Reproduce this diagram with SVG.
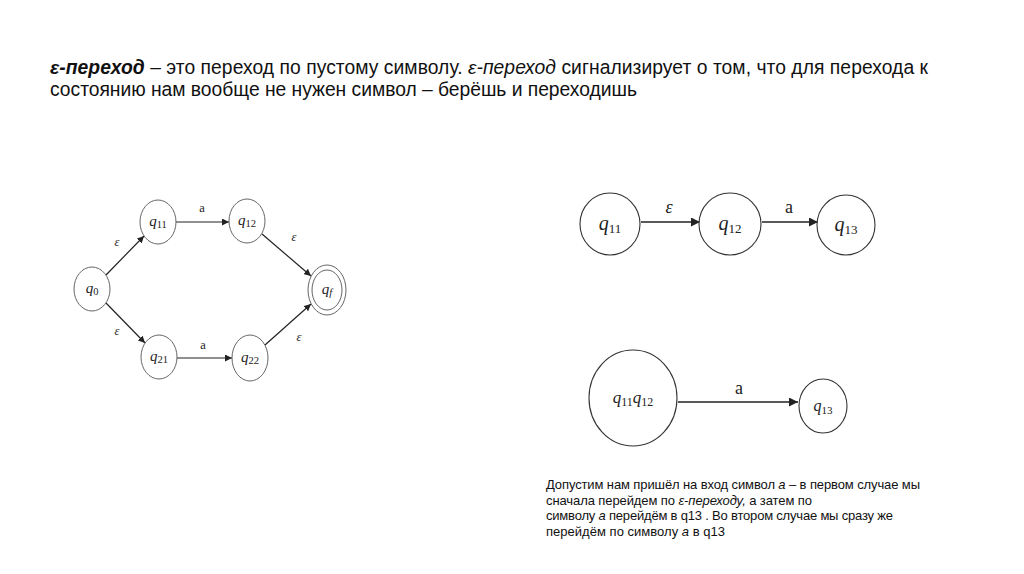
<svg xmlns="http://www.w3.org/2000/svg" width="1024" height="574" viewBox="0 0 1024 574">
<style>
.txt{font-family:"Liberation Sans",Arial,sans-serif;fill:#111}
.title{font-size:19.3px}
.note{font-size:13px}
.nd{fill:#fff;stroke:#666;stroke-width:1}
.nd2{fill:#fff;stroke:#333;stroke-width:1.1}
.ql{font-family:"Liberation Serif","DejaVu Serif",serif;font-style:italic;fill:#222;text-anchor:middle}
.sub{font-style:normal}
.lbl{font-family:"Liberation Serif","DejaVu Serif",serif;fill:#222;text-anchor:middle}
.eps{font-style:italic}
.edge{stroke:#222;stroke-width:1.2;fill:none}
.edge2{stroke:#222;stroke-width:1.3;fill:none}
</style>
<defs>
<marker id="ah" viewBox="0 0 10 10" refX="10" refY="5" markerWidth="7" markerHeight="7" markerUnits="userSpaceOnUse" orient="auto">
<path d="M0,0 L10,5 L0,10 z" fill="#222"/>
</marker>
<marker id="ah2" viewBox="0 0 10 10" refX="10" refY="5" markerWidth="9" markerHeight="9" markerUnits="userSpaceOnUse" orient="auto">
<path d="M0,0 L10,5 L0,10 z" fill="#222"/>
</marker>
</defs>
<rect width="1024" height="574" fill="#fff"/>

<g id="title" class="txt title" xml:space="preserve">
<text x="50" y="74" textLength="878"><tspan font-weight="bold" font-style="italic">ε-переход</tspan> – это переход по пустому символу.  <tspan font-style="italic">ε-переход</tspan> сигнализирует о том, что для перехода к</text>
<text x="50" y="96" textLength="587">состоянию нам вообще не нужен символ – берёшь и переходишь</text>
</g>

<g id="connectors">
<line class="edge" x1="106" y1="275" x2="144" y2="236" marker-end="url(#ah)"/>
<line class="edge" x1="106" y1="303" x2="145" y2="343" marker-end="url(#ah)"/>
<line class="edge" x1="176" y1="222" x2="229" y2="222" marker-end="url(#ah)"/>
<line class="edge" x1="177" y1="358" x2="232" y2="358" marker-end="url(#ah)"/>
<line class="edge" x1="262" y1="234" x2="311" y2="276" marker-end="url(#ah)"/>
<line class="edge" x1="265" y1="345" x2="311" y2="304" marker-end="url(#ah)"/>
<line class="edge2" x1="641" y1="222" x2="700" y2="222" marker-end="url(#ah2)"/>
<line class="edge2" x1="762" y1="222" x2="818" y2="222" marker-end="url(#ah2)"/>
<line class="edge2" x1="678" y1="402" x2="798" y2="402" marker-end="url(#ah2)"/>
<g class="lbl" font-size="12.5">
<text x="117" y="246" class="eps">ε</text>
<text x="117" y="335" class="eps">ε</text>
<text x="202" y="212">a</text>
<text x="203" y="349">a</text>
<text x="294" y="241" class="eps">ε</text>
<text x="299" y="341" class="eps">ε</text>
</g>
<g class="lbl" font-size="18">
<text x="669" y="213" class="eps">ε</text>
<text x="789" y="213">a</text>
<text x="739" y="394">a</text>
</g>
</g>

<g id="q0"><ellipse class="nd" cx="92" cy="289" rx="18" ry="22"/><text class="ql" x="92" y="293" font-size="15">q<tspan class="sub" font-size="10.5" dy="2">0</tspan></text></g>
<g id="q11"><ellipse class="nd" cx="158" cy="222" rx="18" ry="22"/><text class="ql" x="158" y="226" font-size="15">q<tspan class="sub" font-size="10.5" dy="2">11</tspan></text></g>
<g id="q12"><ellipse class="nd" cx="247" cy="221" rx="18" ry="22"/><text class="ql" x="247" y="225" font-size="15">q<tspan class="sub" font-size="10.5" dy="2">12</tspan></text></g>
<g id="q21"><ellipse class="nd" cx="159" cy="357" rx="18" ry="22"/><text class="ql" x="159" y="361" font-size="15">q<tspan class="sub" font-size="10.5" dy="2">21</tspan></text></g>
<g id="q22"><ellipse class="nd" cx="250" cy="358" rx="18" ry="23"/><text class="ql" x="250" y="362" font-size="15">q<tspan class="sub" font-size="10.5" dy="2">22</tspan></text></g>
<g id="qf"><ellipse class="nd" cx="327" cy="290" rx="19" ry="25"/><ellipse class="nd" cx="327" cy="290" rx="15" ry="20"/><text class="ql" x="327" y="294" font-size="15">q<tspan font-size="10.5" dy="2">f</tspan></text></g>

<g id="r_q11"><ellipse class="nd2" cx="610" cy="224" rx="30" ry="31"/><text class="ql" x="610" y="230" font-size="20">q<tspan class="sub" font-size="13" dy="3">11</tspan></text></g>
<g id="r_q12"><ellipse class="nd2" cx="730" cy="224" rx="31" ry="31"/><text class="ql" x="730" y="230" font-size="20">q<tspan class="sub" font-size="13" dy="3">12</tspan></text></g>
<g id="r_q13"><ellipse class="nd2" cx="846" cy="225" rx="29" ry="30"/><text class="ql" x="846" y="231" font-size="20">q<tspan class="sub" font-size="13" dy="3">13</tspan></text></g>

<g id="b_q11q12"><ellipse class="nd2" cx="633" cy="398" rx="44" ry="48"/><text class="ql" x="633" y="403" font-size="17">q<tspan class="sub" font-size="12" dy="3">11</tspan><tspan dy="-3">q</tspan><tspan class="sub" font-size="12" dy="3">12</tspan></text></g>
<g id="b_q13"><ellipse class="nd2" cx="823" cy="406" rx="24" ry="27"/><text class="ql" x="823" y="411" font-size="16">q<tspan class="sub" font-size="11" dy="3">13</tspan></text></g>

<g id="note" class="txt note" xml:space="preserve">
<text x="546" y="489" textLength="374">Допустим нам пришёл на вход символ <tspan font-style="italic">а</tspan> – в первом случае мы</text>
<text x="546" y="504.5" textLength="266">сначала перейдем по <tspan font-style="italic">ε-переходу,</tspan> а затем по</text>
<text x="546" y="520" textLength="347">символу <tspan font-style="italic">а</tspan> перейдём в q13 . Во втором случае мы сразу же</text>
<text x="546" y="535.5" textLength="179">перейдём по символу <tspan font-style="italic">а</tspan> в  q13</text>
</g>
</svg>
